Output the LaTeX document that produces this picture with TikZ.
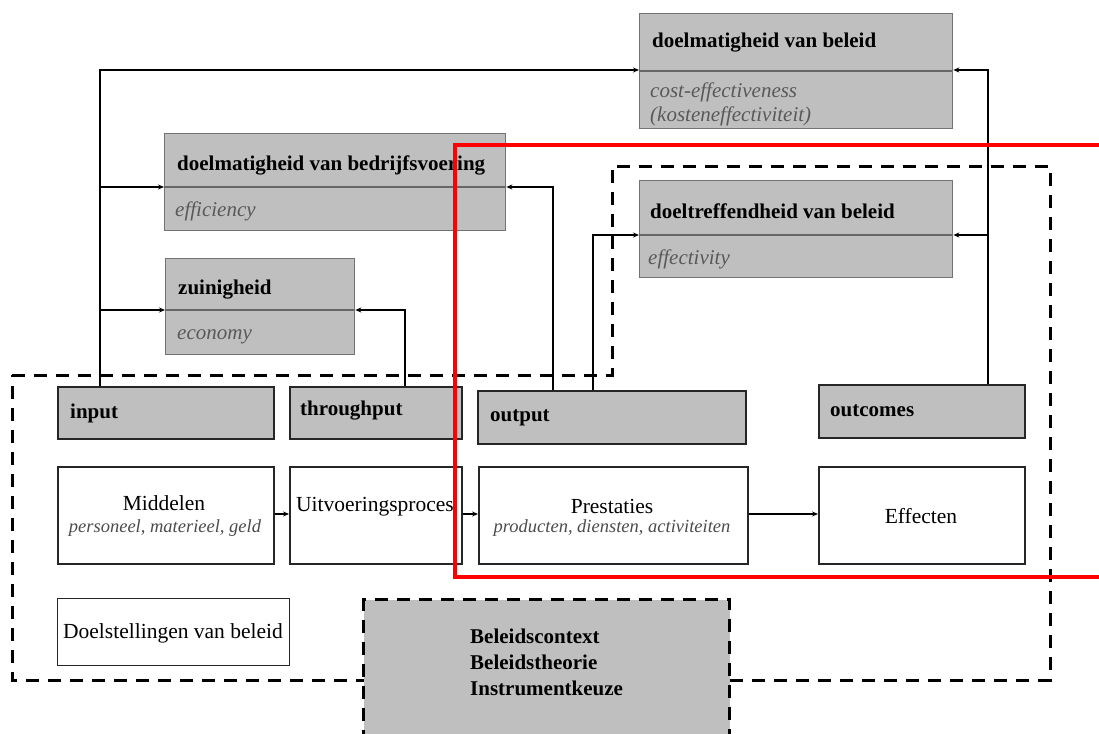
\documentclass[tikz,border=0pt]{standalone}
\usepackage{fontspec}
\setmainfont{Liberation Serif}
\usetikzlibrary{arrows.meta}
\begin{document}
\begin{tikzpicture}[x=1pt,y=-1pt,
  graybox/.style={draw=black!55, line width=1.3pt, fill=black!25, inner sep=0pt},
  rowbox/.style={draw=black!85, line width=1.5pt, fill=black!25, inner sep=0pt},
  whitebox/.style={draw=black!85, line width=1.5pt, fill=white, inner sep=0pt},
  divline/.style={draw=black!60, line width=1.3pt},
  conn/.style={line width=1.4pt, -{Stealth[length=6pt,width=5pt]}},
  dashline/.style={line width=3pt, dash pattern=on 13pt off 9pt},
  ttl/.style={anchor=west, inner sep=0pt, font=\bfseries\fontsize{21}{24}\selectfont},
  sub/.style={anchor=west, inner sep=0pt, text=black!65, font=\itshape\fontsize{21}{24}\selectfont},
  bodytxt/.style={inner sep=0pt, font=\fontsize{21.5}{25}\selectfont},
  smalltxt/.style={inner sep=0pt, text=black!70, font=\itshape\fontsize{18.5}{22}\selectfont}
]
\useasboundingbox (0,0) rectangle (1099,733);

% dashed outline
\draw[dashline] (12,375) -- (612,375) -- (612,166) -- (1050,166) -- (1050,680) -- (12,680) -- cycle;

% top boxes
\node[graybox, anchor=north west, minimum width=313pt, minimum height=115pt] (dvb) at (639,13) {};
\draw[divline, line width=2.5pt] (639,71) -- (952,71);
\node[ttl] (dvbT) at (652,43) {doelmatigheid van beleid};
\node[sub] (dvbS1) at (650,92) {cost-effectiveness};
\node[sub] (dvbS2) at (650,116) {(kosteneffectiviteit)};

\node[graybox, anchor=north west, minimum width=341pt, minimum height=97pt] (dbv) at (164,133) {};
\draw[divline] (164,187) -- (505,187);
\node[ttl] (dbvT) at (177,165) {doelmatigheid van bedrijfsvoering};
\node[sub] (dbvS) at (175,211) {efficiency};

\node[graybox, anchor=north west, minimum width=189pt, minimum height=96pt] (zn) at (165,258) {};
\draw[divline] (165,310) -- (354,310);
\node[ttl] (znT) at (178,290) {zuinigheid};
\node[sub] (znS) at (177,337) {economy};

\node[graybox, anchor=north west, minimum width=313pt, minimum height=97pt] (dtb) at (639,180) {};
\draw[divline] (639,235) -- (952,235);
\node[ttl] (dtbT) at (650,211) {doeltreffendheid van beleid};
\node[sub] (dtbS) at (648,259) {effectivity};

% row of gray labels
\node[rowbox, anchor=north west, minimum width=216pt, minimum height=52pt] (inp) at (57,386) {};
\node[ttl] (inpT) at (70,413) {input};
\node[rowbox, anchor=north west, minimum width=172pt, minimum height=52pt] (thr) at (289,386) {};
\node[ttl] (thrT) at (300,411) {throughput};
\node[rowbox, anchor=north west, minimum width=268pt, minimum height=53pt] (outp) at (477,390) {};
\node[ttl] (outpT) at (490,418) {output};
\node[rowbox, anchor=north west, minimum width=206pt, minimum height=53pt] (outc) at (818,384) {};
\node[ttl] (outcT) at (830,411) {outcomes};

% white boxes
\node[whitebox, anchor=north west, minimum width=216pt, minimum height=97pt] (mid) at (57,466) {};
\node[bodytxt] (midT) at (164,503) {Middelen};
\node[smalltxt] (midS) at (165,528) {personeel, materieel, geld};
\node[whitebox, anchor=north west, minimum width=172pt, minimum height=97pt] (uit) at (289,466) {};
\node[bodytxt, anchor=west] (uitT) at (296,507) {Uitvoeringsproces};
\node[whitebox, anchor=north west, minimum width=269pt, minimum height=97pt] (pre) at (478,466) {};
\node[bodytxt] (preT) at (612,506) {Prestaties};
\node[smalltxt] (preS) at (612,528) {producten, diensten, activiteiten};
\node[whitebox, anchor=north west, minimum width=206pt, minimum height=97pt] (eff) at (818,466) {};
\node[bodytxt] (effT) at (921,516) {Effecten};

\node[whitebox, line width=1pt, anchor=north west, minimum width=232pt, minimum height=67pt] (doel) at (57,598) {};
\node[bodytxt] (doelT) at (173,633) {Doelstellingen van beleid};

% beleidscontext box
\node[fill=black!25, draw=black, dashline, anchor=north west, minimum width=366pt, minimum height=150pt, inner sep=0pt] (bc) at (362,598) {};
\node[ttl, anchor=north west, align=left, font=\bfseries\fontsize{21}{26}\selectfont] (bcT) at (470,629) {Beleidscontext\\Beleidstheorie\\Instrumentkeuze};

% flow arrows
\draw[conn] (mid.east |- 0,514) -- (uit.west |- 0,514);
\draw[conn] (uit.east |- 0,514) -- (pre.west |- 0,514);
\draw[conn] (pre.east |- 0,514) -- (eff.west |- 0,514);

% feedback connectors
\coordinate (cA) at (100,70);
\coordinate (cB) at (100,187);
\coordinate (cC) at (100,310);
\draw[conn] (inp.north -| cA) -- (cA) -- (dvb.west |- cA);
\draw[conn] (cB) -- (dbv.west |- cB);
\draw[conn] (cC) -- (zn.west |- cC);

\coordinate (cD) at (405,310);
\draw[conn] (thr.north -| cD) -- (cD) -- (zn.east |- cD);

\coordinate (cE) at (553,187);
\draw[conn] (outp.north -| cE) -- (cE) -- (dbv.east |- cE);

\coordinate (cF) at (593,235);
\draw[conn] (outp.north -| cF) -- (cF) -- (dtb.west |- cF);

\coordinate (cG) at (988,70);
\coordinate (cH) at (988,235);
\draw[conn] (outc.north -| cG) -- (cG) -- (dvb.east |- cG);
\draw[conn] (cH) -- (dtb.east |- cH);

% red highlight
\draw[red, line width=3.5pt] (1110,145) -- (455,145) -- (455,577) -- (1110,577);
\end{tikzpicture}
\end{document}
